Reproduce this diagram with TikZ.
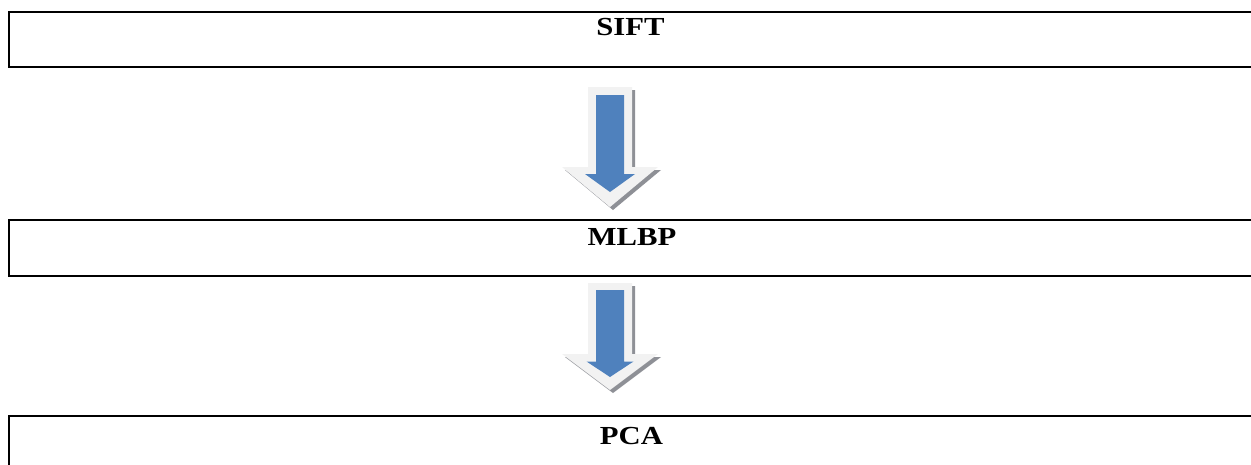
\documentclass[tikz,border=0pt]{standalone}
\usepackage{fontspec}
\setmainfont{Liberation Serif}
\definecolor{arrowblue}{HTML}{4F81BD}
\definecolor{bevel}{HTML}{F2F2F2}
\definecolor{shade}{HTML}{8E9096}
\tikzset{
  stagebox/.style={draw=black, line width=2pt},
  stagelabel/.style={anchor=base, inner sep=0pt, font=\fontsize{26}{30}\selectfont\bfseries},
  bevelpart/.style={fill=bevel},
  shadepart/.style={fill=shade},
  corepart/.style={fill=arrowblue},
}
% block arrow: centre x, shaft half width, wing half width, top y, head y, tip y
\newcommand\blockarrow[7][]{%
  \fill[#1] (#2-#3,#5) -- (#2-#3,#6) -- (#2-#4,#6) -- (#2,#7)
    -- (#2+#4,#6) -- (#2+#3,#6) -- (#2+#3,#5) -- cycle;}
\begin{document}
\begin{tikzpicture}[x=1pt, y=-1pt]
  \useasboundingbox (0,0) rectangle (1251,464);
  \clip (0,0) rectangle (1251,464);

  % process stages
  \draw[stagebox] (9,12) rectangle (1270,66.5);
  \draw[stagebox] (9,220) rectangle (1270,276);
  \draw[stagebox] (9,416) rectangle (1270,480);
  \node[stagelabel] (sift) at (630.5,35) {\scalebox{1.18}[1]{SIFT}};
  \node[stagelabel] (mlbp) at (632,245) {\scalebox{1.18}[1]{MLBP}};
  \node[stagelabel] (pca)  at (631.5,444.5) {\scalebox{1.18}[1]{PCA}};

  % first arrow: shadow, bevel, core
  \blockarrow[shadepart]{613}{22}{48}{90}{170}{210}
  \blockarrow[bevelpart]{610}{22}{48}{87}{167}{207}
  \blockarrow[corepart]{610}{14}{25}{95}{174}{192}

  % second arrow
  \blockarrow[shadepart]{613}{22}{48}{286}{357}{393}
  \blockarrow[bevelpart]{610}{22}{48}{283}{354}{390}
  \blockarrow[corepart]{610}{14}{23.5}{290}{361.5}{377}
\end{tikzpicture}
\end{document}
